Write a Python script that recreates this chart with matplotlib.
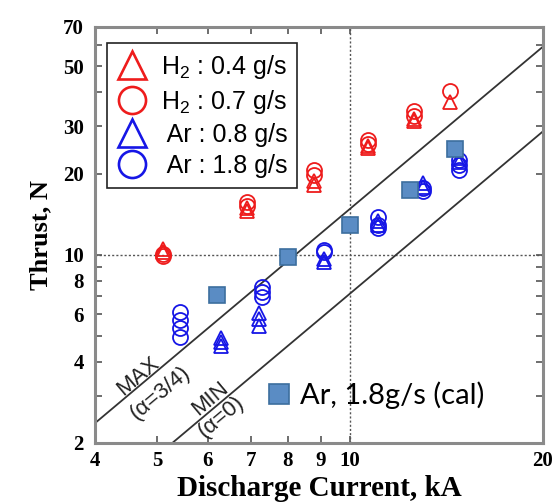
import matplotlib
matplotlib.use('Agg')
import matplotlib.pyplot as plt
from matplotlib.lines import Line2D
from matplotlib.ticker import NullFormatter

plt.rcParams['font.family'] = ['Liberation Sans', 'DejaVu Sans']
plt.rcParams['mathtext.fontset'] = 'custom'
plt.rcParams['mathtext.rm'] = 'Liberation Sans'
plt.rcParams['mathtext.it'] = 'Liberation Sans:italic'
plt.rcParams['mathtext.bf'] = 'Liberation Sans:bold'

# ---------------- data ----------------
h2_04_current = [5.1, 5.1, 6.9, 6.9, 8.8, 8.8, 10.65, 10.65, 12.6, 12.6, 14.3]
h2_04_thrust = [10.5, 10.2, 14.5, 14.9, 18.1, 18.7, 24.9, 25.4, 31.3, 32.0, 37.0]

h2_07_current = [5.1, 5.1, 6.9, 6.9, 8.8, 8.8, 10.65, 10.65, 12.6, 12.6, 14.3]
h2_07_thrust = [9.9, 10.1, 15.2, 15.7, 19.8, 20.7, 25.8, 26.7, 32.8, 34.0, 40.4]

ar_08_current = [6.3, 6.3, 6.3, 7.2, 7.2, 7.2, 9.1, 9.1, 11.06, 11.06, 13.0, 13.0, 14.8, 14.8]
ar_08_thrust = [4.9, 4.75, 4.6, 6.05, 5.75, 5.45, 9.4, 9.65, 12.9, 13.3, 18.4, 17.9, 22.8, 22.0]

ar_18_current = [5.43, 5.43, 5.43, 5.43, 7.28, 7.28, 7.28, 9.1, 9.1, 11.06, 11.06, 11.06, 13.0, 13.0, 14.8, 14.8, 14.8]
ar_18_thrust = [6.14, 5.73, 5.35, 4.95, 7.6, 7.25, 6.95, 10.45, 10.2, 13.8, 12.9, 12.6, 17.7, 17.2, 22.5, 21.6, 20.7]

ar_cal_current = [6.2, 8.0, 10.0, 12.4, 14.6]
ar_cal_thrust = [7.1, 9.8, 12.9, 17.4, 24.6]

max_line_current = [4.0, 20.0]
max_line_thrust = [2.37, 59.2]
min_line_current = [5.28, 20.0]
min_line_thrust = [2.0, 28.7]

x_ticks = [4, 5, 6, 7, 8, 9, 10, 20]
x_labels = ['4', '5', '6', '7', '8', '9', '10', '20']
y_ticks = [2, 4, 6, 8, 10, 20, 30, 50, 70]
y_labels = ['2', '4', '6', '8', '10', '20', '30', '50', '70']
y_minor = [3, 5, 7, 9, 40, 60]

legend_labels = ['H$_2$ : 0.4 g/s', 'H$_2$ : 0.7 g/s', ' Ar : 0.8 g/s', ' Ar : 1.8 g/s']
cal_label = 'Ar, 1.8g/s (cal)'

RED = '#EE1C1C'
BLUE = '#1616E6'
SQ_FACE = '#5A8CC4'
SQ_EDGE = '#3C6E9E'

# ---------------- figure ----------------
fig = plt.figure(figsize=(5.58, 5.03), dpi=100)
ax = fig.add_axes([95 / 558, 60 / 503, 448 / 558, 416 / 503])
ax.set_xscale('log')
ax.set_yscale('log')
ax.set_xlim(4, 20)
ax.set_ylim(2, 70)

tick_font = dict(fontsize=15, fontweight='bold', fontfamily='Liberation Serif')
ax.set_xticks(x_ticks, labels=x_labels, **tick_font)
ax.set_xticks([], minor=True)
ax.set_yticks(y_ticks, labels=y_labels, **tick_font)
ax.set_yticks(y_minor, minor=True)
ax.yaxis.set_minor_formatter(NullFormatter())
ax.xaxis.set_minor_formatter(NullFormatter())
ax.tick_params(which='both', direction='in', top=True, right=True,
               length=5, width=1.2, color='#555555')
ax.tick_params(axis='y', pad=8)
ax.tick_params(axis='x', pad=6)

for s in ax.spines.values():
    s.set_color('#8a8a8a')
    s.set_linewidth(2.2)

# dotted reference lines
ax.axhline(10, ls=(0, (1.5, 1.5)), color='#555555', lw=1.0, zorder=1)
ax.axvline(10, ls=(0, (1.5, 1.5)), color='#555555', lw=1.0, zorder=1)

# theory lines
ax.plot(max_line_current, max_line_thrust, color='#333333', lw=1.3, zorder=2)
ax.plot(min_line_current, min_line_thrust, color='#333333', lw=1.3, zorder=2)

ms_c = 10.8
ms_t = 9.8
ax.plot(h2_04_current, h2_04_thrust, ls='none', marker='^', ms=ms_t, mfc='none', mec=RED, mew=1.3, zorder=3)
ax.plot(h2_07_current, h2_07_thrust, ls='none', marker='o', ms=ms_c, mfc='none', mec=RED, mew=1.3, zorder=3)
ax.plot(ar_08_current, ar_08_thrust, ls='none', marker='^', ms=ms_t, mfc='none', mec=BLUE, mew=1.3, zorder=3)
ax.plot(ar_18_current, ar_18_thrust, ls='none', marker='o', ms=ms_c, mfc='none', mec=BLUE, mew=1.3, zorder=3)
ax.plot(ar_cal_current, ar_cal_thrust, ls='none', marker='s', ms=11.5, mfc=SQ_FACE, mec=SQ_EDGE, mew=1.2, zorder=4)

# line annotations
rot = 40
ann = dict(rotation=rot, rotation_mode='anchor', ha='center', va='center', fontsize=16, color='#222222')
ax.text(4.67, 3.55, 'MAX', **ann)
ax.text(5.05, 3.08, '(α=3/4)', **ann)
ax.text(6.05, 2.91, 'MIN', **ann)
ax.text(6.3, 2.50, '(α=0)', **ann)

# main legend
handles = [
    Line2D([], [], ls='none', marker='^', ms=20, mfc='none', mec=RED, mew=1.9),
    Line2D([], [], ls='none', marker='o', ms=19.5, mfc='none', mec=RED, mew=1.9),
    Line2D([], [], ls='none', marker='^', ms=20, mfc='none', mec=BLUE, mew=1.9),
    Line2D([], [], ls='none', marker='o', ms=19.5, mfc='none', mec=BLUE, mew=1.9),
]
leg = ax.legend(handles, legend_labels, loc='upper left', bbox_to_anchor=(0.027, 0.962),
                borderaxespad=0, fontsize=18, frameon=True, fancybox=False,
                edgecolor='#222222', framealpha=1, handlelength=1.2, handletextpad=0.55,
                labelspacing=0.28, borderpad=0.4)
leg.get_frame().set_linewidth(1.2)
ax.add_artist(leg)

# calculated legend
cal_handle = Line2D([], [], ls='none', marker='s', ms=14, mfc=SQ_FACE, mec=SQ_EDGE, mew=1.2)
leg2 = ax.legend([cal_handle], [cal_label], loc='center left', bbox_to_anchor=(0.385, 0.115),
                 borderaxespad=0, borderpad=0, frameon=False, handlelength=0.8,
                 handletextpad=0.3, prop={'family': 'Lato', 'size': 21})

ax.set_xlabel('Discharge Current, kA', fontsize=21, fontweight='bold', fontfamily='Liberation Serif', labelpad=3)
ax.set_ylabel('Thrust, N', fontsize=19, fontweight='bold', fontfamily='Liberation Serif', labelpad=8)

fig.savefig('out.png', dpi=100)
